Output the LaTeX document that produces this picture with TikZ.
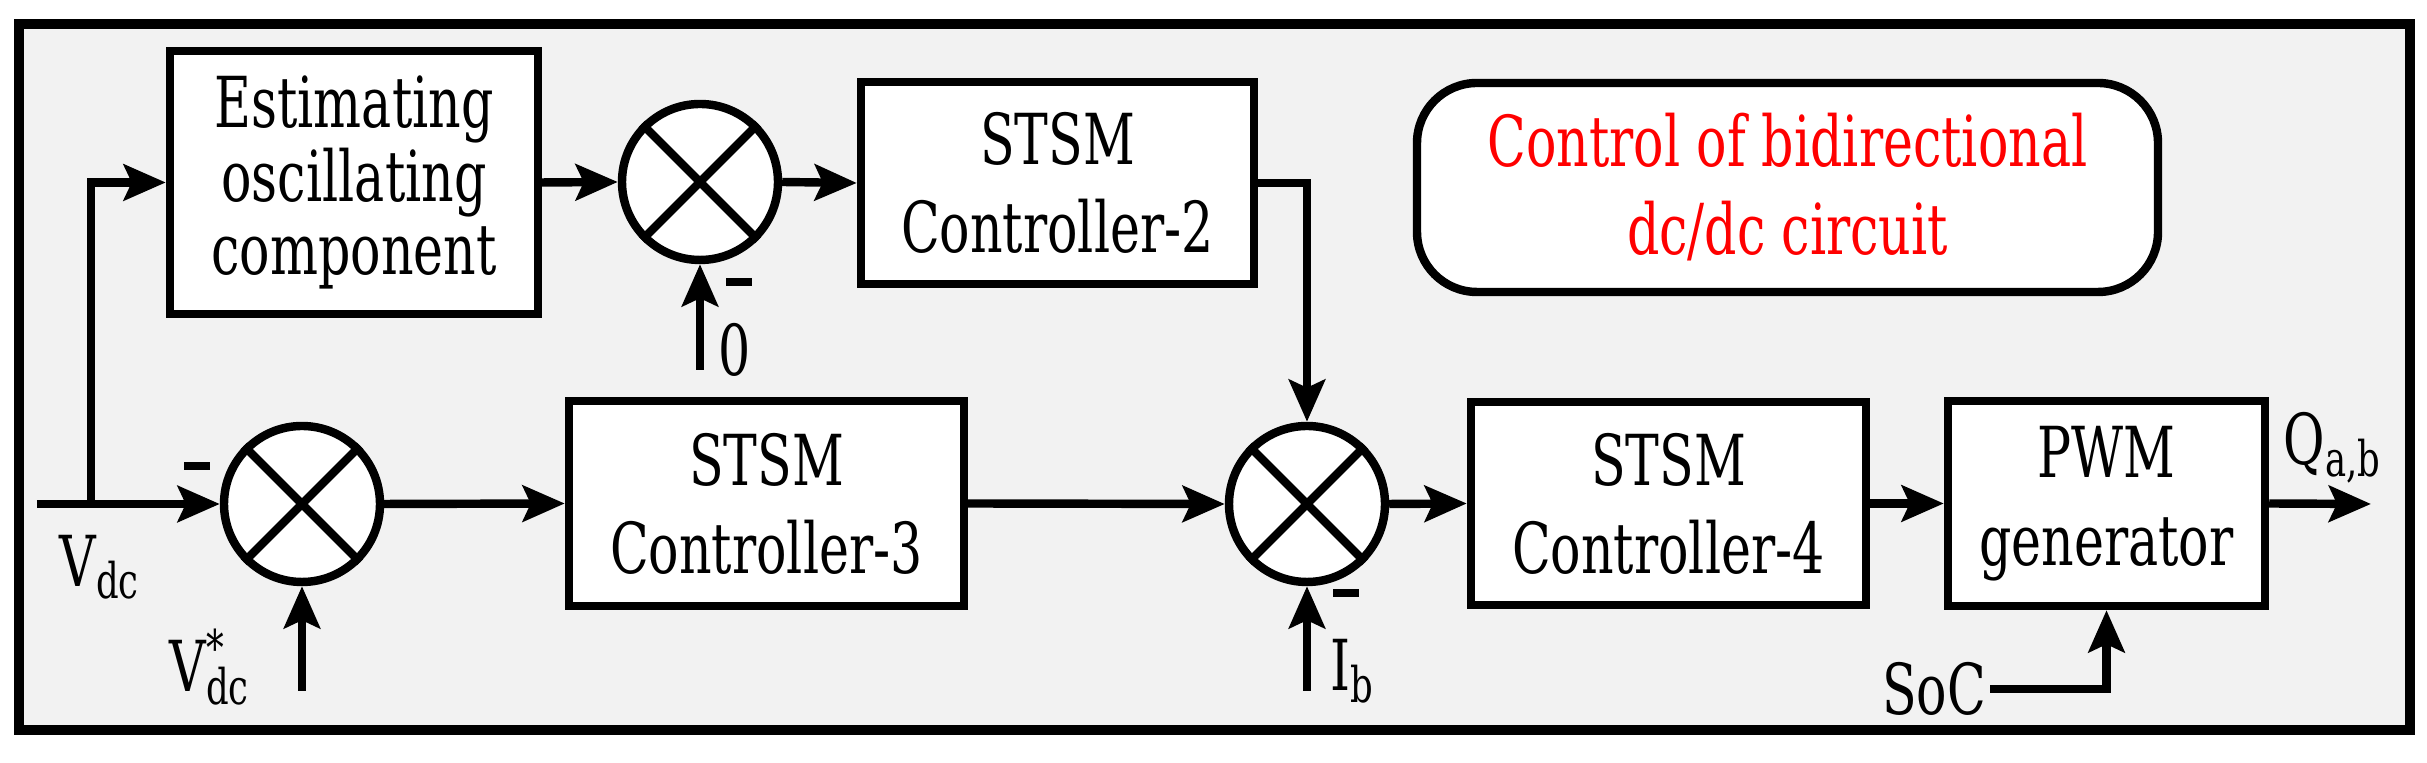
\documentclass[tikz,border=0pt]{standalone}
\usepackage{fontspec}
\setmainfont{DejaVu Serif}[FakeStretch=0.72]
\newfontfamily\tnr{DejaVu Serif}[FakeStretch=0.72]
\usetikzlibrary{arrows.meta}
\begin{document}
\begin{tikzpicture}[
  line width=2.4pt,
  blk/.style={draw,fill=white,align=center,inner sep=0pt,font=\tnr\fontsize{20}{25}\selectfont},
  sum/.style={draw,fill=white,circle,minimum size=1.56cm,inner sep=0pt},
  lbl/.style={font=\tnr\fontsize{20}{25}\selectfont,inner sep=0pt},
  mn/.style={fill=black,minimum width=0.26cm,minimum height=0.08cm,inner sep=0pt},
  arr/.style={-{Stealth[length=0.42cm,width=0.36cm,inset=0.08cm]}}
]
\useasboundingbox (0,0) rectangle (24.27,7.63);
\node[draw,fill=black!5,minimum width=23.91cm,minimum height=7.06cm,line width=2.6pt,inner sep=0pt] (frame) at (12.145,3.86) {};
\node[blk,minimum width=3.68cm,minimum height=2.63cm,font=\tnr\fontsize{20}{21}\selectfont] (est) at (3.54,5.805) {Estimating\\oscillating\\component};
\node[sum] (s1) at (7.00,5.81) {};
\node[blk,minimum width=3.93cm,minimum height=2.02cm] (c2) at (10.575,5.80) {STSM\\Controller-2};
\node[sum] (s2) at (3.02,2.59) {};
\node[blk,minimum width=3.95cm,minimum height=2.05cm] (c3) at (7.665,2.595) {STSM\\Controller-3};
\node[sum] (s3) at (13.07,2.59) {};
\node[blk,minimum width=3.95cm,minimum height=2.03cm] (c4) at (16.685,2.595) {STSM\\Controller-4};
\node[blk,minimum width=3.17cm,minimum height=2.05cm] (pwm) at (21.065,2.595) {PWM\\generator};
\node[blk,rounded corners=0.6cm,minimum width=7.41cm,minimum height=2.09cm,text=red] (title) at (17.875,5.755) {Control of bidirectional\\dc/dc circuit};
\foreach \s in {s1,s2,s3}{
  \draw (\s.north east) -- (\s.south west);
  \draw (\s.north west) -- (\s.south east);
}
% labels
\node[lbl] (vdc) at (1.00,1.96) {V\textsubscript{dc}};
\node[lbl] (vref) at (2.10,0.96) {V\rlap{\textsuperscript{*}}\textsubscript{dc}};
\node[lbl] (zero) at (7.35,4.13) {0};
\node[lbl] (ib) at (13.53,0.92) {I\textsubscript{b}};
\node[lbl] (soc) at (19.34,0.74) {SoC};
\node[lbl] (q) at (23.33,3.15) {Q\textsubscript{a,b}};
\node[mn] (m1) at (7.39,4.81) {};
\node[mn] (m2) at (1.97,2.97) {};
\node[mn] (m3) at (13.46,1.70) {};
\coordinate (in) at (0.37,2.59);
\coordinate (br) at (0.91,2.59);
\coordinate (zin) at (7.00,3.93);
\coordinate (vin) at (3.02,0.72);
\coordinate (iin) at (13.07,0.72);
\coordinate (out) at (23.71,2.59);
% connectors
\draw[arr] (in) -- (s2.west);
\draw[arr] (br) |- (est.west);
\draw[arr] (est.east) -- (s1.west);
\draw[arr] (s1.east) -- (c2.west);
\draw[arr] (zin) -- (s1.south);
\draw[arr] (vin) -- (s2.south);
\draw[arr] (s2.east) -- (c3.west);
\draw[arr] (c3.east) -- (s3.west);
\draw[arr] (c2.east) -| (s3.north);
\draw[arr] (iin) -- (s3.south);
\draw[arr] (s3.east) -- (c4.west);
\draw[arr] (c4.east) -- (pwm.west);
\draw[arr] (pwm.east) -- (out);
\draw[arr] (soc.east) -| (pwm.south);
\end{tikzpicture}
\end{document}
